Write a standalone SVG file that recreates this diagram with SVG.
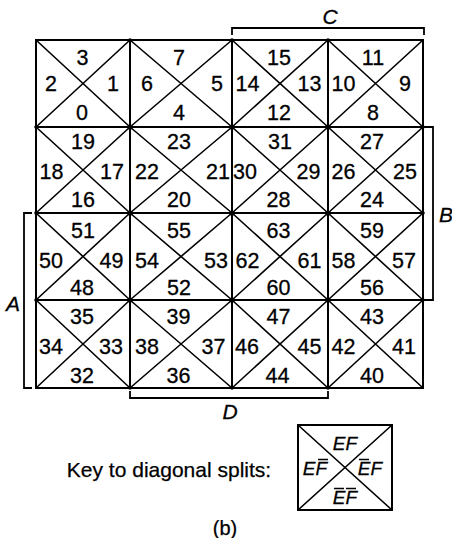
<svg xmlns="http://www.w3.org/2000/svg" width="452" height="538" viewBox="0 0 452 538">
<style>
.n{font-family:"Liberation Sans",Arial,sans-serif;font-size:21.5px;text-anchor:middle;fill:#000;stroke:#000;stroke-width:0.3}
.lab{font-family:"Liberation Sans",Arial,sans-serif;font-size:21px;font-style:italic;text-anchor:middle;fill:#000;stroke:#000;stroke-width:0.3}
.k{font-family:"Liberation Sans",Arial,sans-serif;font-size:19px;font-style:italic;text-anchor:middle;fill:#000;stroke:#000;stroke-width:0.3}
.t{font-family:"Liberation Sans",Arial,sans-serif;font-size:20px;text-anchor:middle;fill:#000;stroke:#000;stroke-width:0.25}
.g{fill:none;stroke:#000;stroke-width:2}
.d{fill:none;stroke:#000;stroke-width:1.6}
.br{fill:none;stroke:#000;stroke-width:1.8}
.bar{fill:none;stroke:#000;stroke-width:1.6}
</style>
<rect width="452" height="538" fill="#fff"/>
<g id="grid">
<path class="g" d="M36,40H423V388H36Z M130,40V388 M232,40V388 M328,40V388 M36,127H423 M36,213H423 M36,300H423"/>
<path class="d" d="M36,40L130,127 M130,40L36,127 M130,40L232,127 M232,40L130,127 M232,40L328,127 M328,40L232,127 M328,40L423,127 M423,40L328,127
M36,127L130,213 M130,127L36,213 M130,127L232,213 M232,127L130,213 M232,127L328,213 M328,127L232,213 M328,127L423,213 M423,127L328,213
M36,213L130,300 M130,213L36,300 M130,213L232,300 M232,213L130,300 M232,213L328,300 M328,213L232,300 M328,213L423,300 M423,213L328,300
M36,300L130,388 M130,300L36,388 M130,300L232,388 M232,300L130,388 M232,300L328,388 M328,300L232,388 M328,300L423,388 M423,300L328,388"/>
<g fill="#000">
<circle cx="130" cy="127" r="2.6"/><circle cx="232" cy="127" r="2.6"/><circle cx="328" cy="127" r="2.6"/>
<circle cx="130" cy="213" r="2.6"/><circle cx="232" cy="213" r="2.6"/><circle cx="328" cy="213" r="2.6"/>
<circle cx="130" cy="300" r="2.6"/><circle cx="232" cy="300" r="2.6"/><circle cx="328" cy="300" r="2.6"/>
<circle cx="130" cy="40" r="1.8"/><circle cx="232" cy="40" r="1.8"/><circle cx="328" cy="40" r="1.8"/>
<circle cx="130" cy="388" r="1.8"/><circle cx="232" cy="388" r="1.8"/><circle cx="328" cy="388" r="1.8"/>
<circle cx="36" cy="127" r="1.8"/><circle cx="36" cy="213" r="1.8"/><circle cx="36" cy="300" r="1.8"/>
<circle cx="423" cy="127" r="1.8"/><circle cx="423" cy="213" r="1.8"/><circle cx="423" cy="300" r="1.8"/>
</g>
</g>
<g id="cell-r0c0"><text class="n" x="82.5" y="64.5">3</text><text class="n" x="51" y="91">2</text><text class="n" x="113" y="91">1</text><text class="n" x="82" y="120">0</text></g>
<g id="cell-r0c1"><text class="n" x="179" y="64.5">7</text><text class="n" x="147" y="91">6</text><text class="n" x="217" y="91">5</text><text class="n" x="179" y="120">4</text></g>
<g id="cell-r0c2"><text class="n" x="279" y="64.5">15</text><text class="n" x="247.5" y="91">14</text><text class="n" x="309.5" y="91">13</text><text class="n" x="279" y="120">12</text></g>
<g id="cell-r0c3"><text class="n" x="373" y="64.5">11</text><text class="n" x="343.5" y="91">10</text><text class="n" x="405" y="91">9</text><text class="n" x="373" y="120">8</text></g>
<g id="cell-r1c0"><text class="n" x="83" y="149">19</text><text class="n" x="51.5" y="179">18</text><text class="n" x="112" y="179">17</text><text class="n" x="83" y="206.5">16</text></g>
<g id="cell-r1c1"><text class="n" x="179" y="149">23</text><text class="n" x="147" y="179">22</text><text class="n" x="218" y="179">21</text><text class="n" x="179" y="206.5">20</text></g>
<g id="cell-r1c2"><text class="n" x="280" y="149">31</text><text class="n" x="245" y="179">30</text><text class="n" x="308.5" y="179">29</text><text class="n" x="278.5" y="206.5">28</text></g>
<g id="cell-r1c3"><text class="n" x="372" y="149">27</text><text class="n" x="343.5" y="179">26</text><text class="n" x="405" y="179">25</text><text class="n" x="372" y="206.5">24</text></g>
<g id="cell-r2c0"><text class="n" x="83" y="238">51</text><text class="n" x="51" y="267.5">50</text><text class="n" x="111.5" y="267.5">49</text><text class="n" x="82" y="295">48</text></g>
<g id="cell-r2c1"><text class="n" x="179" y="238">55</text><text class="n" x="147" y="267.5">54</text><text class="n" x="216" y="267.5">53</text><text class="n" x="179" y="295">52</text></g>
<g id="cell-r2c2"><text class="n" x="278.5" y="238">63</text><text class="n" x="247.5" y="267.5">62</text><text class="n" x="309.5" y="267.5">61</text><text class="n" x="278.5" y="295">60</text></g>
<g id="cell-r2c3"><text class="n" x="372" y="238">59</text><text class="n" x="343.5" y="267.5">58</text><text class="n" x="404" y="267.5">57</text><text class="n" x="372" y="295">56</text></g>
<g id="cell-r3c0"><text class="n" x="82" y="324">35</text><text class="n" x="51" y="354">34</text><text class="n" x="111" y="354">33</text><text class="n" x="82" y="382.5">32</text></g>
<g id="cell-r3c1"><text class="n" x="178.5" y="324">39</text><text class="n" x="147" y="354">38</text><text class="n" x="213.5" y="354">37</text><text class="n" x="178.5" y="382.5">36</text></g>
<g id="cell-r3c2"><text class="n" x="278.5" y="324">47</text><text class="n" x="247" y="354">46</text><text class="n" x="309.5" y="354">45</text><text class="n" x="277.5" y="382.5">44</text></g>
<g id="cell-r3c3"><text class="n" x="372" y="324">43</text><text class="n" x="343.5" y="354">42</text><text class="n" x="404" y="354">41</text><text class="n" x="372" y="382.5">40</text></g>
<g id="connectors">
<path class="br" d="M232,35V28H424V35"/>
<path class="br" d="M424,127H433V300H424"/>
<path class="br" d="M32,213H24V388H32"/>
<path class="br" d="M130,391V398H328V391"/>
</g>
<g id="bracket-labels">
<text class="lab" x="330" y="24">C</text>
<text class="lab" x="446" y="222">B</text>
<text class="lab" x="13" y="311">A</text>
<text class="lab" x="230" y="419">D</text>
</g>
<g id="key">
<text class="t" x="169" y="477" style="font-size:21px">Key to diagonal splits:</text>
<rect x="298" y="425" width="94" height="85" class="g"/>
<path class="d" d="M298,425L392,510 M392,425L298,510"/>
<text class="k" x="345" y="450">EF</text>
<text class="k" x="315" y="475">EF</text>
<text class="k" x="370" y="475">EF</text>
<text class="k" x="345" y="504">EF</text>
<path class="bar" d="M318,459.5H328 M359,459.5H369 M334,488.5H344 M346,488.5H356"/>
</g>
<text class="t" x="225" y="535">(b)</text>
</svg>
